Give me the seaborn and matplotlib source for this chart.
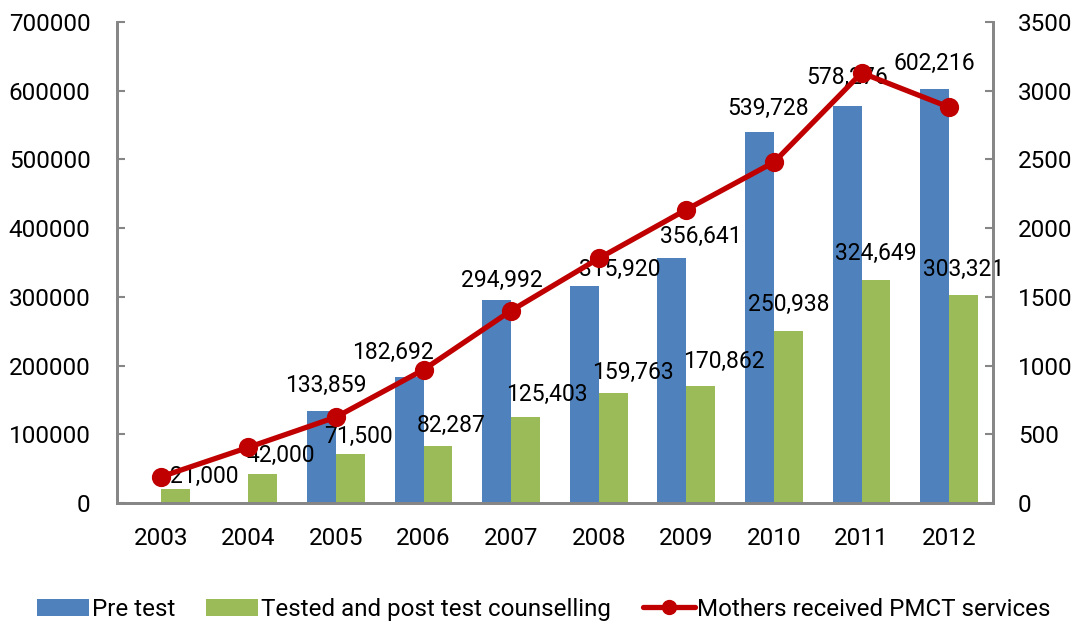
import numpy as np
import pandas as pd
import matplotlib
matplotlib.use("Agg")
import matplotlib.pyplot as plt
import seaborn as sns
from matplotlib.patches import Patch
from matplotlib.lines import Line2D

# データ
years = ["2003", "2004", "2005", "2006", "2007", "2008", "2009", "2010", "2011", "2012"]
pre_test = [0, 0, 133859, 182692, 294992, 315920, 356641, 539728, 578276, 602216]
post_test = [21000, 42000, 71500, 82287, 125403, 159763, 170862, 250938, 324649, 303321]
mothers = [190, 405, 625, 970, 1400, 1780, 2135, 2480, 3130, 2880]

series_names = ["Pre test", "Tested and post test counselling", "Mothers received PMCT services"]

blue = "#4F81BD"
green = "#9BBB59"
red = "#C00000"
grey = "#868686"

sns.set_style("white")
plt.rcParams["font.family"] = ["Roboto", "DejaVu Sans"]
plt.rcParams["text.color"] = "black"
plt.rcParams["xtick.color"] = "black"
plt.rcParams["ytick.color"] = "black"

# 棒グラフ用のロング形式データ
bars = pd.DataFrame({
    "year": years * 2,
    "value": pre_test + post_test,
    "series": [series_names[0]] * len(years) + [series_names[1]] * len(years),
})

fig = plt.figure(figsize=(10.77, 6.23), dpi=100)
ax = fig.add_axes([0.1086, 0.1926, 0.8134, 0.7721])

sns.barplot(
    data=bars,
    x="year",
    y="value",
    hue="series",
    order=years,
    hue_order=series_names[:2],
    palette=[blue, green],
    width=0.66,
    saturation=1,
    linewidth=0,
    edgecolor="none",
    legend=False,
    ax=ax,
)

ax.set_ylim(0, 700000)
ax.set_yticks(range(0, 700001, 100000))
ax.set_yticklabels([str(v) for v in range(0, 700001, 100000)])
ax.set_xlim(-0.5, len(years) - 0.5)
ax.set_xlabel("")
ax.set_ylabel("")

# ラベルの微調整（ピクセル単位：右, 上）
nudge = {
    (0, 2): (4, 2), (0, 3): (-16, 1), (0, 4): (5, -4), (0, 5): (35, -8),
    (0, 6): (29, -3), (0, 7): (9, 0), (0, 8): (0, 4), (0, 9): (0, 2),
    (1, 0): (29, -12), (1, 1): (18, -5), (1, 2): (8, -7), (1, 3): (13, -3),
    (1, 4): (21, -2), (1, 5): (20, -3), (1, 6): (23, 0), (1, 7): (0, 2),
    (1, 8): (0, 2), (1, 9): (0, 1),
}
px = 72 / 100

# 棒の上に値を表示
for s, container in enumerate(ax.containers):
    for i, rect in enumerate(container):
        h = rect.get_height()
        if h <= 0:
            continue
        dx, dy = nudge.get((s, i), (0, 0))
        ax.annotate(
            f"{int(h):,}",
            xy=(rect.get_x() + rect.get_width() / 2, h),
            xytext=(dx * px, (24 + dy) * px),
            textcoords="offset points",
            ha="center",
            va="center",
            fontsize=16.5,
        )

# 右軸の折れ線
ax2 = ax.twinx()
sns.pointplot(
    x=years,
    y=mothers,
    order=years,
    color=red,
    markers="o",
    markersize=11,
    linewidth=3.8,
    ax=ax2,
)
ax2.set_ylim(0, 3500)
ax2.set_yticks(range(0, 3501, 500))
ax2.set_xlim(-0.5, len(years) - 0.5)
ax2.set_ylabel("")

# 軸のスタイル
for a in (ax, ax2):
    a.spines["top"].set_visible(False)
    for side in ("left", "right", "bottom"):
        a.spines[side].set_color(grey)
        a.spines[side].set_linewidth(2)
ax.tick_params(axis="y", direction="in", length=6, color=grey, width=1.5, pad=19, labelsize=17.5)
ax.tick_params(axis="x", length=0, pad=17, labelsize=17.5)
ax2.tick_params(axis="y", direction="in", length=6, color=grey, width=1.5, pad=18, labelsize=17.5)

# 凡例
handles = [
    Patch(facecolor=blue, edgecolor="none"),
    Patch(facecolor=green, edgecolor="none"),
    Line2D([0], [0], color=red, linewidth=3.8, marker="o", markersize=10),
]
fig.legend(
    handles,
    series_names,
    loc="center",
    bbox_to_anchor=(0.505, 0.022),
    ncol=3,
    frameon=False,
    fontsize=17.4,
    handlelength=2.15,
    handleheight=0.7,
    handletextpad=0.12,
    columnspacing=1.3,
)

fig.savefig("out.png", dpi=100)
